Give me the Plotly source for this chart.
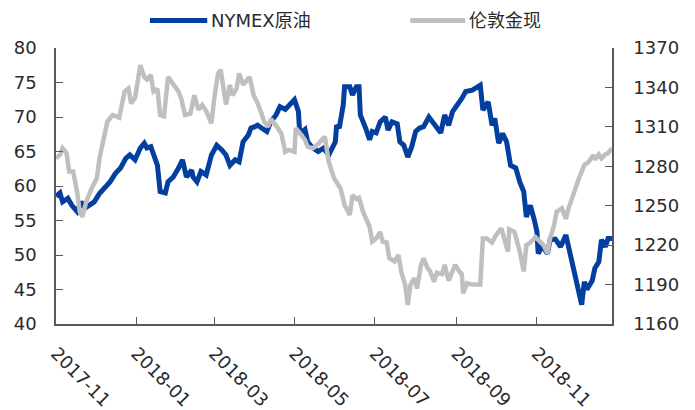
import plotly.graph_objects as go

# NYMEX crude oil (USD/bbl), left axis
oil_dates = [
    "2017-11-01", "2017-11-04", "2017-11-06", "2017-11-10", "2017-11-13", "2017-11-17",
    "2017-11-20", "2017-11-23", "2017-11-27", "2017-11-30", "2017-12-04", "2017-12-08",
    "2017-12-12", "2017-12-16", "2017-12-20", "2017-12-24", "2017-12-27", "2017-12-31",
    "2018-01-04", "2018-01-07", "2018-01-09", "2018-01-12", "2018-01-14", "2018-01-17",
    "2018-01-19", "2018-01-23", "2018-01-25", "2018-01-29", "2018-02-02", "2018-02-05",
    "2018-02-08", "2018-02-12", "2018-02-13", "2018-02-16", "2018-02-19", "2018-02-23",
    "2018-02-27", "2018-03-03", "2018-03-07", "2018-03-10", "2018-03-13", "2018-03-17",
    "2018-03-20", "2018-03-23", "2018-03-27", "2018-03-29", "2018-04-01", "2018-04-03",
    "2018-04-06", "2018-04-10", "2018-04-13", "2018-04-17", "2018-04-20", "2018-04-24",
    "2018-04-27", "2018-05-01", "2018-05-04", "2018-05-05", "2018-05-09", "2018-05-11",
    "2018-05-15", "2018-05-19", "2018-05-23", "2018-05-27", "2018-06-01", "2018-06-02",
    "2018-06-04", "2018-06-07", "2018-06-08", "2018-06-12", "2018-06-14", "2018-06-17",
    "2018-06-19", "2018-06-20", "2018-06-24", "2018-06-27", "2018-06-29", "2018-07-02",
    "2018-07-05", "2018-07-09", "2018-07-11", "2018-07-14", "2018-07-18", "2018-07-20",
    "2018-07-23", "2018-07-26", "2018-07-29", "2018-08-01", "2018-08-04", "2018-08-07",
    "2018-08-11", "2018-08-13", "2018-08-16", "2018-08-20", "2018-08-23", "2018-08-26",
    "2018-08-29", "2018-09-01", "2018-09-05", "2018-09-08", "2018-09-13", "2018-09-19",
    "2018-09-21", "2018-09-25", "2018-09-28", "2018-09-30", "2018-10-03", "2018-10-06",
    "2018-10-09", "2018-10-12", "2018-10-16", "2018-10-19", "2018-10-22", "2018-10-24",
    "2018-10-27", "2018-10-30", "2018-11-01", "2018-11-02", "2018-11-05", "2018-11-09",
    "2018-11-11", "2018-11-15", "2018-11-19", "2018-11-23", "2018-11-25", "2018-11-28",
    "2018-11-30", "2018-12-03", "2018-12-05", "2018-12-07", "2018-12-09", "2018-12-13",
    "2018-12-15", "2018-12-18", "2018-12-20", "2018-12-23", "2018-12-25", "2018-12-28",
]
oil_price = [
    58.5, 59.0, 57.7, 58.2, 57.2, 56.3,
    57.7, 56.8, 57.3, 57.7, 58.9, 59.7,
    60.6, 61.8, 62.6, 64.0, 64.5, 63.8,
    65.5, 66.2, 65.5, 65.7, 64.5, 63.0,
    59.2, 59.0, 60.6, 61.3, 62.6, 63.8,
    61.3, 62.3, 61.3, 60.6, 62.1, 61.6,
    64.5, 65.9, 65.2, 64.5, 63.0, 63.8,
    63.5, 66.4, 67.4, 68.4, 68.6, 68.8,
    68.4, 67.9, 69.3, 70.3, 71.5, 71.1,
    71.7, 72.5, 70.8, 67.6, 68.2, 66.4,
    65.5, 65.0, 65.5, 64.5, 66.4, 68.8,
    68.4, 71.7, 74.4, 74.4, 73.2, 74.4,
    74.4, 70.3, 68.4, 66.7, 67.9, 67.7,
    69.3, 70.0, 68.1, 69.3, 69.0, 66.4,
    65.9, 64.2, 65.7, 67.9, 68.4, 68.6,
    70.0, 69.5, 68.6, 67.7, 70.3, 68.8,
    70.8, 71.5, 72.7, 73.7, 73.9, 74.6,
    71.0, 72.2, 68.8, 69.8, 66.2, 67.6,
    66.4, 63.0, 62.6, 60.6, 59.2, 55.5,
    57.2, 55.1, 53.4, 50.2, 51.4, 50.2,
    52.2, 52.3, 51.2, 52.9, 51.2, 48.6,
    47.1, 44.7, 42.8, 46.1, 45.0, 46.3,
    48.1, 49.0, 52.2, 51.2, 52.4, 52.4,
]

# London spot gold (USD/oz), right axis
gold_dates = [
    "2017-11-01", "2017-11-04", "2017-11-06", "2017-11-09", "2017-11-11", "2017-11-14",
    "2017-11-17", "2017-11-19", "2017-11-21", "2017-11-24", "2017-11-28", "2017-12-02",
    "2017-12-04", "2017-12-07", "2017-12-10", "2017-12-14", "2017-12-17", "2017-12-19",
    "2017-12-23", "2017-12-26", "2017-12-28", "2017-12-31", "2018-01-04", "2018-01-07",
    "2018-01-09", "2018-01-12", "2018-01-14", "2018-01-17", "2018-01-19", "2018-01-22",
    "2018-01-25", "2018-01-29", "2018-02-02", "2018-02-04", "2018-02-07", "2018-02-11",
    "2018-02-14", "2018-02-17", "2018-02-20", "2018-02-23", "2018-02-27", "2018-03-01",
    "2018-03-04", "2018-03-06", "2018-03-08", "2018-03-10", "2018-03-13", "2018-03-15",
    "2018-03-18", "2018-03-20", "2018-03-23", "2018-03-25", "2018-03-28", "2018-03-31",
    "2018-04-03", "2018-04-06", "2018-04-08", "2018-04-11", "2018-04-13", "2018-04-17",
    "2018-04-21", "2018-04-24", "2018-04-27", "2018-05-01", "2018-05-02", "2018-05-06",
    "2018-05-09", "2018-05-11", "2018-05-15", "2018-05-18", "2018-05-22", "2018-05-24",
    "2018-05-27", "2018-05-31", "2018-06-05", "2018-06-08", "2018-06-12", "2018-06-14",
    "2018-06-17", "2018-06-19", "2018-06-22", "2018-06-24", "2018-06-27", "2018-06-29",
    "2018-07-02", "2018-07-05", "2018-07-07", "2018-07-10", "2018-07-12", "2018-07-16",
    "2018-07-19", "2018-07-21", "2018-07-24", "2018-07-26", "2018-07-28", "2018-07-31",
    "2018-08-02", "2018-08-05", "2018-08-07", "2018-08-10", "2018-08-12", "2018-08-15",
    "2018-08-17", "2018-08-21", "2018-08-23", "2018-08-26", "2018-08-29", "2018-08-31",
    "2018-09-03", "2018-09-05", "2018-09-06", "2018-09-09", "2018-09-13", "2018-09-19",
    "2018-09-21", "2018-09-24", "2018-09-28", "2018-10-01", "2018-10-05", "2018-10-07",
    "2018-10-10", "2018-10-11", "2018-10-15", "2018-10-19", "2018-10-22", "2018-10-24",
    "2018-10-27", "2018-10-31", "2018-11-02", "2018-11-06", "2018-11-09", "2018-11-11",
    "2018-11-14", "2018-11-16", "2018-11-20", "2018-11-23", "2018-11-25", "2018-11-29",
    "2018-12-03", "2018-12-07", "2018-12-10", "2018-12-14", "2018-12-15", "2018-12-18",
    "2018-12-20", "2018-12-23", "2018-12-25", "2018-12-28",
]
gold_price = [
    1286, 1288.6, 1293.7, 1290, 1276, 1276,
    1260.7, 1245.5, 1241.6, 1253, 1263.2, 1270.9,
    1286, 1301.3, 1314, 1319, 1318, 1317,
    1336.8, 1339.3, 1327.9, 1332, 1357, 1348,
    1346, 1349.5, 1336.8, 1339, 1319, 1318,
    1348, 1343, 1336.8, 1331.7, 1319, 1320,
    1334, 1323, 1326.6, 1322, 1312.7, 1330.8,
    1350.7, 1353.3, 1339.3, 1327, 1341.8, 1334,
    1339, 1350.7, 1342, 1344.4, 1348, 1334,
    1328, 1320, 1314, 1310, 1316, 1311,
    1305, 1291, 1292.5, 1291, 1309, 1304,
    1300, 1295, 1293.7, 1296, 1300, 1302.5,
    1283.5, 1271, 1263, 1250.5, 1243, 1258,
    1255, 1256, 1245.5, 1240.4, 1234, 1222.6,
    1225, 1230, 1222.6, 1222, 1210, 1207.6,
    1212.5, 1200, 1189.7, 1174.5, 1189.7, 1194.8,
    1187, 1205, 1210, 1202.6, 1200, 1192.2,
    1199, 1198, 1205, 1193, 1200, 1205,
    1200, 1198, 1183.4, 1191, 1190, 1190,
    1225, 1225, 1222, 1227.7, 1232.8, 1226,
    1215, 1232, 1230, 1215, 1200, 1220,
    1222, 1226, 1224, 1220, 1213.8, 1225,
    1235, 1245.5, 1248, 1240, 1248, 1260.7,
    1271, 1281, 1283, 1288.6, 1285, 1289,
    1286, 1289, 1290, 1293.7,
]

# Bi-monthly tick marks along the date axis
tick_dates = ["2017-11-01", "2018-01-01", "2018-03-01", "2018-05-01",
              "2018-07-01", "2018-09-01", "2018-11-01"]
tick_labels = ["2017-11", "2018-01", "2018-03", "2018-05",
               "2018-07", "2018-09", "2018-11"]

oil_name = "NYMEX原油"
gold_name = "伦敦金现"
oil_color = "#033F9E"
gold_color = "#BFBFBF"
axis_color = "#595959"
text_color = "#2B2B2B"
font_family = "DejaVu Sans, Noto Sans CJK SC, sans-serif"

fig = go.Figure()
fig.add_trace(go.Scatter(
    x=gold_dates, y=gold_price, name=gold_name, yaxis="y2", mode="lines",
    line=dict(color=gold_color, width=4.5), showlegend=False,
))
fig.add_trace(go.Scatter(
    x=oil_dates, y=oil_price, name=oil_name, yaxis="y", mode="lines",
    line=dict(color=oil_color, width=5), showlegend=False,
))

axis_common = dict(
    showgrid=False, zeroline=False, showline=True, linecolor=axis_color,
    linewidth=1.5, ticks="inside", ticklen=7, tickcolor=axis_color,
    automargin=False,
    tickfont=dict(family=font_family, size=18, color=text_color),
)

fig.update_layout(
    width=695, height=410,
    margin=dict(l=56, r=83, t=48, b=86),
    paper_bgcolor="white", plot_bgcolor="white",
    font=dict(family=font_family, color=text_color),
    xaxis=dict(
        type="date", range=["2017-11-01", "2018-12-28"],
        tickmode="array", tickvals=tick_dates, ticktext=tick_labels,
        tickangle=45, ticklabelstandoff=10, **axis_common,
    ),
    yaxis=dict(range=[40, 80], dtick=5, tick0=40, ticklabelstandoff=14,
               **axis_common),
    yaxis2=dict(range=[1160, 1370], dtick=30, tick0=1160, overlaying="y",
                side="right", ticklabelstandoff=16, **axis_common),
)

# Legend drawn along the top: sample line followed by the series name
legend_items = [
    (oil_name, oil_color, 0.169, 0.272),
    (gold_name, gold_color, 0.637, 0.736),
]
for name, color, x0, x1 in legend_items:
    fig.add_shape(type="line", xref="paper", yref="paper",
                  x0=x0, x1=x1, y0=1.10, y1=1.10,
                  line=dict(color=color, width=5))
    fig.add_annotation(xref="paper", yref="paper", x=x1 + 0.004, y=1.10,
                       xanchor="left", yanchor="middle", showarrow=False,
                       text=name, font=dict(family=font_family, size=18,
                                            color=text_color))

fig.write_html("out.html")
